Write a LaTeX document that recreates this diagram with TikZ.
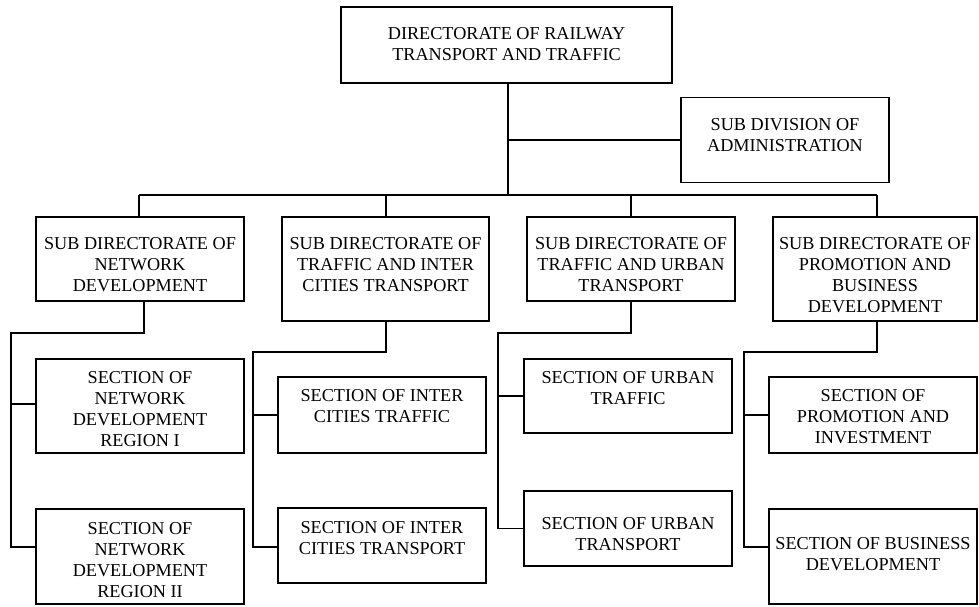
\documentclass[tikz,border=0pt]{standalone}
\usepackage{fontspec}
\setmainfont{Liberation Serif}
\begin{document}
\begin{tikzpicture}[x=1pt,y=-1pt,
  box/.style={draw, line width=1.5pt, inner sep=0pt, rectangle},
  txt/.style={anchor=north, align=center, inner sep=0pt,
    font=\fontsize{18.2}{21}\selectfont},
  link/.style={line width=1.5pt}]
\useasboundingbox (0,0) rectangle (979,606);

% ---- boxes ----
\node[box, minimum width=331pt, minimum height=76pt] (top) at (506.5,45) {};
\node[box, minimum width=208pt, minimum height=85pt] (adm) at (785,140) {};
\node[box, minimum width=208pt, minimum height=84pt] (sd1) at (140,259) {};
\node[box, minimum width=207pt, minimum height=104pt] (sd2) at (385.5,269) {};
\node[box, minimum width=208pt, minimum height=84pt] (sd3) at (631,259) {};
\node[box, minimum width=204pt, minimum height=104pt] (sd4) at (875,269) {};
\node[box, minimum width=208pt, minimum height=94pt] (s11) at (140,406) {};
\node[box, minimum width=208pt, minimum height=95pt] (s12) at (140,556.5) {};
\node[box, minimum width=208pt, minimum height=76pt] (s21) at (382,415) {};
\node[box, minimum width=208pt, minimum height=75pt] (s22) at (382,545.5) {};
\node[box, minimum width=208pt, minimum height=74pt] (s31) at (628,396) {};
\node[box, minimum width=208pt, minimum height=75pt] (s32) at (628,528.5) {};
\node[box, minimum width=208pt, minimum height=76pt] (s41) at (873,415) {};
\node[box, minimum width=208pt, minimum height=95pt] (s42) at (873,556.5) {};

% ---- texts ----
\node[txt] (top-t) at ([yshift=-21pt]top.north) {DIRECTORATE OF RAILWAY\\TRANSPORT AND TRAFFIC};
\node[txt] (adm-t) at ([yshift=-21pt]adm.north) {SUB DIVISION OF\\ADMINISTRATION};
\node[txt] (sd1-t) at ([yshift=-21pt]sd1.north) {SUB DIRECTORATE OF\\NETWORK\\DEVELOPMENT};
\node[txt] (sd2-t) at ([yshift=-21pt]sd2.north) {SUB DIRECTORATE OF\\TRAFFIC AND INTER\\CITIES TRANSPORT};
\node[txt] (sd3-t) at ([yshift=-21pt]sd3.north) {SUB DIRECTORATE OF\\TRAFFIC AND URBAN\\TRANSPORT};
\node[txt] (sd4-t) at ([yshift=-21pt]sd4.north) {SUB DIRECTORATE OF\\PROMOTION AND\\BUSINESS\\DEVELOPMENT};
\node[txt] (s11-t) at ([yshift=-13pt]s11.north) {SECTION OF\\NETWORK\\DEVELOPMENT\\REGION I};
\node[txt] (s12-t) at ([yshift=-14pt]s12.north) {SECTION OF\\NETWORK\\DEVELOPMENT\\REGION II};
\node[txt] (s21-t) at ([yshift=-13pt]s21.north) {SECTION OF INTER\\CITIES TRAFFIC};
\node[txt] (s22-t) at ([yshift=-14pt]s22.north) {SECTION OF INTER\\CITIES TRANSPORT};
\node[txt] (s31-t) at ([yshift=-13pt]s31.north) {SECTION OF URBAN\\TRAFFIC};
\node[txt] (s32-t) at ([yshift=-27pt]s32.north) {SECTION OF URBAN\\TRANSPORT};
\node[txt] (s41-t) at ([yshift=-13pt]s41.north) {SECTION OF\\PROMOTION AND\\INVESTMENT};
\node[txt] (s42-t) at ([yshift=-29pt]s42.north) {SECTION OF BUSINESS\\DEVELOPMENT};

% ---- junction points ----
\coordinate (bus) at (508,195);
\coordinate (admj) at (508,140);
\coordinate (j1) at (11,333);
\coordinate (j2) at (253,352);
\coordinate (j3) at (498,333);
\coordinate (j4) at (744,352);

% ---- connectors ----
\draw[link] (top.south -| bus) -- (bus);
\draw[link] (admj) -- (adm.west);
\draw[link] (139,195) coordinate (busl) -- (877,195) coordinate (busr);
\draw[link] (busl) -- (busl |- sd1.north);
\draw[link] (386,195) -- (386,217);
\draw[link] (631,195) -- (631,217);
\draw[link] (busr) -- (busr |- sd4.north);

\draw[link] ([xshift=4pt]sd1.south) -- ([xshift=4pt]sd1.south |- j1) -- (j1) -- (11,547) -- (s12.west |- 0,547);
\draw[link] (11,404) -- (s11.west |- 0,404);

\draw[link] ([xshift=0.5pt]sd2.south) -- ([xshift=0.5pt]sd2.south |- j2) -- (j2) -- (253,547) -- (s22.west |- 0,547);
\draw[link] (253,415) -- (s21.west);

\draw[link] (sd3.south) -- (sd3.south |- j3) -- (j3) -- (498,528.5) -- (s32.west);
\draw[link] (498,396) -- (s31.west);

\draw[link] ([xshift=2pt]sd4.south) -- ([xshift=2pt]sd4.south |- j4) -- (j4) -- (744,547) -- (s42.west |- 0,547);
\draw[link] (744,415) -- (s41.west);
\end{tikzpicture}
\end{document}
